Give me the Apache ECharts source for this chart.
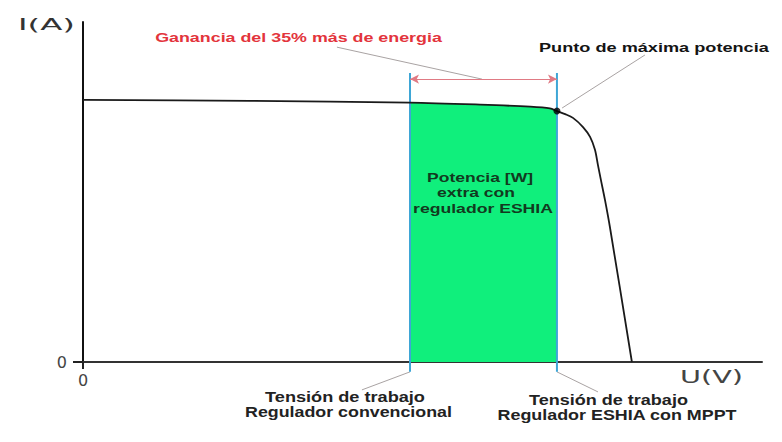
<!DOCTYPE html>
<html><head><meta charset="utf-8">
<script src="https://cdn.jsdelivr.net/npm/echarts@6/dist/echarts.min.js"></script>
<style>html,body{margin:0;padding:0;background:#fff}#c{width:782px;height:442px}</style>
</head><body><div id="c"></div>
<script>
// I-V curve of the panel (U in V, I in A, arbitrary scale)
const voltage = [0, 6.15, 12.04, 14.62, 16.46, 17.19, 17.45, 17.75, 18.04, 18.41, 18.67, 18.85, 18.96, 19.07, 19.22, 19.40, 20.21];
const current = [7.71, 7.68, 7.63, 7.57, 7.51, 7.46, 7.38, 7.29, 7.18, 6.91, 6.62, 6.24, 5.79, 5.35, 4.76, 3.97, 0];
const vConventional = 12.04;   // working voltage, conventional regulator
const vMPPT = 17.45;           // working voltage, ESHIA MPPT regulator
const iMPPT = 7.38;            // current at maximum power point
const xTickLabels = ['0'];
const yTickLabels = ['0'];
// annotation anchors in data units
const markerTop = 8.5, markerBottom = -0.29, arrowLevel = 8.32;
const leaderLines = [
  [[9.35, 9.26], [14.69, 8.32]],
  [[17.64, 7.47], [20.69, 9.03]],
  [[12.04, -0.29], [10.27, -0.82]],
  [[17.45, -0.29], [18.96, -0.88]]
];

const curve = voltage.map((v, i) => [v, current[i]]);
const area = curve.filter(p => p[0] >= vConventional - 1e-9 && p[0] <= vMPPT + 1e-9);

const mctx = document.createElement('canvas').getContext('2d');
function txt(text, font, fill, x, y, width, align) {
  mctx.font = font;
  const w = mctx.measureText(text).width;
  return { type: 'text', x: x, y: y, scaleX: width / w, z: 100, silent: true,
    style: { text: text, font: font, fill: fill, align: align || 'center', verticalAlign: 'middle' } };
}
const B13 = 'bold 13px "Liberation Sans"', B12 = 'bold 12px "Liberation Sans"', B14 = 'bold 14px "Liberation Sans"';
const texts = [
  txt('Ganancia del 35% más de energia', B13, '#e3343c', 298.5, 37, 287),
  txt('Punto de máxima potencia', B12, '#141414', 539, 48, 230, 'left'),
  txt('Potencia [W]', B13, '#123a20', 480, 177, 106),
  txt('extra con', B13, '#123a20', 476, 192, 78),
  txt('regulador ESHIA', B13, '#123a20', 483, 208, 140),
  txt('Tensión de trabajo', B14, '#222', 345, 397, 160),
  txt('Regulador convencional', B14, '#222', 348.5, 412, 207),
  txt('Tensión de trabajo', B14, '#222', 608.5, 400, 159),
  txt('Regulador ESHIA con MPPT', B14, '#222', 617, 415, 240),
  txt('I(A)', '15px "DejaVu Sans"', '#333', 46.5, 25, 57),
  txt('U(V)', '17px "DejaVu Sans"', '#444', 711.5, 377, 63)
];

const series = [
  { type: 'line', data: area, smooth: 0.3, symbol: 'none', z: 1,
    lineStyle: { width: 0 }, areaStyle: { color: '#10ef7c', opacity: 1 } },
  { type: 'line', data: [[vConventional, markerTop], [vConventional, markerBottom]], clip: false, symbol: 'none', z: 3,
    lineStyle: { color: '#3ea6d6', width: 2 },
    markLine: { silent: true, symbol: ['arrow', 'arrow'], symbolSize: [7, 9], label: { show: false },
      lineStyle: { color: '#e07a84', width: 1.2, type: 'solid' },
      data: [[{ coord: [vConventional, arrowLevel] }, { coord: [vMPPT, arrowLevel] }]] } },
  { type: 'line', data: [[vMPPT, markerTop], [vMPPT, markerBottom]], clip: false, symbol: 'none', z: 3,
    lineStyle: { color: '#3ea6d6', width: 2 } }
];
leaderLines.forEach(l => series.push({ type: 'line', data: l, clip: false, symbol: 'none', z: 2,
  lineStyle: { color: '#a9a3a3', width: 1 } }));
series.push({ type: 'line', data: curve, smooth: 0.3, symbol: 'none', z: 4,
  lineStyle: { color: '#1a1a1a', width: 1.8 } });
series.push({ type: 'scatter', data: [[vMPPT, iMPPT]], symbolSize: 7, z: 5, itemStyle: { color: '#000' } });

const chart = echarts.init(document.getElementById('c'), null, { renderer: 'svg' });
chart.setOption({
  animation: false,
  backgroundColor: '#fff',
  grid: { left: 83, right: 20, top: 22, bottom: 80, outerBoundsMode: 'none' },
  xAxis: { type: 'value', min: 0, max: 25, interval: 25,
    axisLine: { show: true, onZero: false, lineStyle: { color: '#333', width: 2 } },
    axisTick: { show: true, length: 7, customValues: [0], lineStyle: { color: '#222', width: 2 } },
    axisLabel: { customValues: [0], formatter: v => v === 0 ? xTickLabels[0] : '', margin: 10,
      fontSize: 16, color: '#444', fontFamily: 'DejaVu Sans' },
    splitLine: { show: false } },
  yAxis: { type: 'value', min: 0, max: 10, interval: 10,
    axisLine: { show: true, onZero: false, lineStyle: { color: '#111', width: 2 } },
    axisTick: { show: true, length: 10, customValues: [0], lineStyle: { color: '#222', width: 2 } },
    axisLabel: { customValues: [0], formatter: v => v === 0 ? yTickLabels[0] : '', margin: 16,
      fontSize: 16, color: '#444', fontFamily: 'DejaVu Sans' },
    splitLine: { show: false } },
  graphic: texts,
  series: series
});
</script></body></html>
